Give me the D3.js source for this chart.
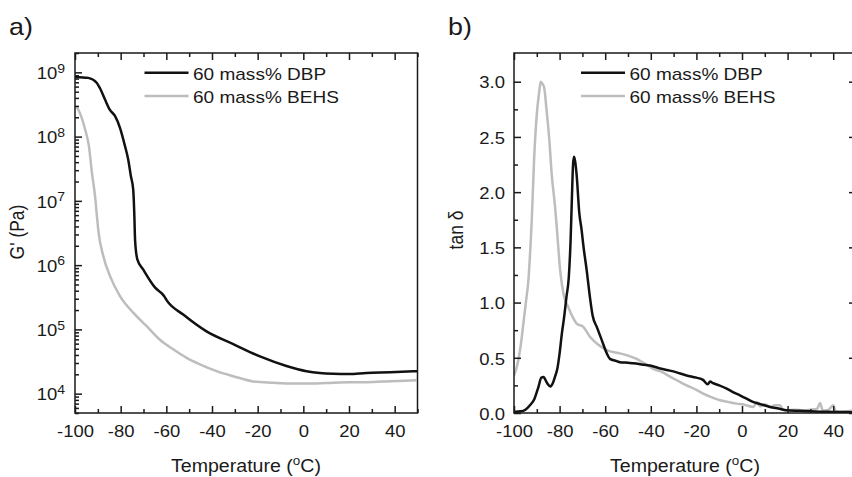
<!DOCTYPE html>
<html><head><meta charset="utf-8">
<script src="https://cdn.jsdelivr.net/npm/d3@7"></script>
<style>body{margin:0;background:#fff}</style>
</head><body><svg id="c" width="852" height="477"></svg>
<script>
// ---------------- data ----------------
const tempTicks = [-100, -80, -60, -40, -20, 0, 20, 40];
const tempMinor = [-90, -70, -50, -30, -10, 10, 30, 50];
const gMajor = [1e4, 1e5, 1e6, 1e7, 1e8, 1e9];
const tanMajor = [0, 0.5, 1, 1.5, 2, 2.5, 3];
const tanMinor = [0.25, 0.75, 1.25, 1.75, 2.25, 2.75];
const seriesNames = ["60 mass% DBP", "60 mass% BEHS"];
const panelLabels = ["a)", "b)"];

// G' (Pa) vs temperature
const gDbpT = [-100, -94.2, -90.5, -89.1, -86.9, -84.7, -82.5, -80.3, -78.1, -76.7, -75.5, -74.5, -74.0, -73.7, -72.7, -70.1, -65, -61, -59.9, -52.6, -42.4, -30.7, -19, -7.4, 1.4, 7.2, 13, 20, 27.6, 38, 50];
const gDbpV = [8.5e8, 8.2e8, 6.9e8, 5.7e8, 3.8e8, 2.6e8, 2.1e8, 1.37e8, 7.1e7, 4.4e7, 2.4e7, 1.5e7, 5.8e6, 2.5e6, 1.23e6, 8.5e5, 4.5e5, 3.3e5, 2.85e5, 1.7e5, 9.3e4, 5.9e4, 3.8e4, 2.7e4, 2.24e4, 2.1e4, 2.04e4, 2.02e4, 2.1e4, 2.15e4, 2.24e4];
const gBehsT = [-99.5, -97.8, -95.6, -93.9, -92.6, -91.2, -90.4, -89.8, -87.6, -84.7, -80.3, -74.5, -68.6, -62.8, -57, -51.1, -45.3, -38, -30.7, -22, -13.2, -4.5, 5.7, 13, 20, 27.6, 38, 49.5];
const gBehsV = [3.0e8, 2.3e8, 1.3e8, 7.1e7, 2.75e7, 1.17e7, 5.8e6, 3.5e6, 1.38e6, 6.8e5, 3.3e5, 1.82e5, 1.12e5, 6.9e4, 4.9e4, 3.6e4, 2.85e4, 2.24e4, 1.87e4, 1.55e4, 1.48e4, 1.44e4, 1.44e4, 1.48e4, 1.5e4, 1.51e4, 1.56e4, 1.62e4];

// tan delta vs temperature
const tanDbpT = [-100, -97, -95, -93, -91, -89.3, -88, -87, -86, -85, -84, -83, -82, -81, -80, -79, -78, -77, -76, -75.2, -74.6, -74.1, -73.7, -73.2, -72.5, -71.4, -70.3, -69.6, -68.1, -66.7, -65.5, -63.7, -61.5, -59.3, -57.9, -55, -53.5, -50, -47.8, -44, -40.4, -37, -33, -29, -24.3, -20, -17.1, -15, -14, -12.7, -10, -6.7, -4, -0.9, 2, 4.8, 8, 12.3, 16, 19.6, 25, 30, 34.2, 40, 45, 50];
const tanDbpV = [0.01, 0.015, 0.03, 0.07, 0.13, 0.235, 0.32, 0.325, 0.29, 0.257, 0.24, 0.27, 0.33, 0.40, 0.54, 0.72, 0.87, 1.05, 1.22, 1.55, 1.95, 2.25, 2.32, 2.28, 2.15, 1.82, 1.65, 1.52, 1.29, 1.05, 0.88, 0.78, 0.66, 0.54, 0.49, 0.47, 0.46, 0.455, 0.45, 0.44, 0.43, 0.41, 0.39, 0.37, 0.34, 0.32, 0.30, 0.26, 0.285, 0.27, 0.25, 0.22, 0.19, 0.16, 0.13, 0.10, 0.08, 0.055, 0.04, 0.025, 0.02, 0.015, 0.012, 0.01, 0.008, 0.006];
const tanBehsT = [-100, -99, -98.1, -97, -95.9, -94.8, -93.7, -92.8, -92.2, -91.2, -90.1, -89, -88.3, -87.5, -86.8, -85.7, -84.5, -83.5, -82, -81, -79.8, -78.1, -76.2, -74.3, -72.5, -69.6, -66.7, -63.7, -59.3, -53.5, -50, -46.2, -42, -38.9, -35, -31.6, -28, -24.3, -20, -17, -13, -9.6, -6, -2.3, 1, 5, 6.5, 8, 10, 12.3, 14.5, 16.7, 18, 19.6, 23, 26.9, 30, 33, 34.2, 35.5, 38, 40, 41, 43, 47.4, 50];
const tanBehsV = [0.34, 0.40, 0.48, 0.62, 0.81, 1.0, 1.2, 1.5, 1.75, 2.29, 2.68, 2.9, 3.0, 2.98, 2.95, 2.74, 2.47, 2.17, 1.87, 1.62, 1.3, 1.06, 0.96, 0.87, 0.81, 0.78, 0.69, 0.63, 0.57, 0.54, 0.52, 0.49, 0.44, 0.40, 0.37, 0.33, 0.29, 0.25, 0.21, 0.175, 0.14, 0.115, 0.10, 0.085, 0.075, 0.055, 0.10, 0.06, 0.08, 0.055, 0.07, 0.07, 0.03, 0.025, 0.03, 0.025, 0.03, 0.04, 0.09, 0.02, 0.03, 0.07, 0.02, 0.01, 0.02, 0.03];

// ---------------- drawing ----------------
const svg = d3.select("#c");
const SX = 1.12;
const FONT = "'Liberation Sans', Arial, Helvetica, sans-serif";
const INK = "#1a1a1a";
const COLORS = ["#111111", "#bdbdbd"];
const MAJ = 7, MIN = 4;

function stretch(sel) {
  sel.each(function () {
    const t = d3.select(this);
    const x = +t.attr("x") || 0, y = +t.attr("y") || 0;
    t.attr("transform", `translate(${x},${y}) scale(${SX},1)`).attr("x", 0).attr("y", 0);
  });
}
function addText(x, y, str, fs, anchor) {
  return svg.append("text").attr("transform", `translate(${x},${y}) scale(${SX},1)`)
    .attr("text-anchor", anchor || "start").attr("fill", INK)
    .style("font-family", FONT).style("font-size", fs + "px").text(str);
}
// tick marks only: axis oriented so that positive ticks point into the plot
function tickAxis(gen, tx, ty, size) {
  const g = svg.append("g").attr("transform", `translate(${tx},${ty})`);
  g.call(gen.tickFormat("").tickSize(size));
  g.select(".domain").remove();
  g.selectAll("line").attr("stroke", INK).attr("stroke-width", 1.5);
  g.selectAll("text").remove();
  return g;
}
// labels only
function labelAxis(gen, tx, ty, fs) {
  const g = svg.append("g").attr("transform", `translate(${tx},${ty})`);
  g.call(gen.tickSize(0));
  g.attr("font-family", null).attr("font-size", null);
  g.select(".domain").remove();
  g.selectAll("line").remove();
  g.selectAll("text").attr("fill", INK).style("font-family", FONT).style("font-size", fs + "px");
  return g;
}

function panel(o) {
  const x = d3.scaleLinear().domain([-100, 50]).range([o.left, o.right]);
  const y = o.y;
  const clipId = "clip" + o.key;
  svg.append("defs").append("clipPath").attr("id", clipId).append("rect")
    .attr("x", o.left).attr("y", o.top).attr("width", o.right - o.left).attr("height", o.bottom - o.top);

  // series
  const line = d3.line().x(d => x(d[0])).y(d => y(d[1])).curve(d3.curveMonotoneX);
  const lg = svg.append("g").attr("clip-path", `url(#${clipId})`);
  [1, 0].forEach(i => {
    const data = d3.zip(o.series[i][0], o.series[i][1]);
    lg.append("path").datum(data).attr("d", line).attr("fill", "none")
      .attr("stroke", COLORS[i]).attr("stroke-width", 2.5).attr("stroke-linejoin", "round");
  });

  // frame
  svg.append("rect").attr("x", o.left).attr("y", o.top).attr("width", o.right - o.left)
    .attr("height", o.bottom - o.top).attr("fill", "none").attr("stroke", INK).attr("stroke-width", 1.5);

  // inward tick marks (bottom edge: upward ticks via axisTop, etc.)
  tickAxis(d3.axisTop(x).tickValues(tempTicks), 0, o.bottom, MAJ);
  tickAxis(d3.axisTop(x).tickValues(tempMinor), 0, o.bottom, MIN);
  tickAxis(d3.axisBottom(x).tickValues(tempTicks), 0, o.top, MAJ);
  tickAxis(d3.axisBottom(x).tickValues(tempMinor), 0, o.top, MIN);
  tickAxis(d3.axisRight(y).tickValues(o.yMajor), o.left, 0, MAJ);
  tickAxis(d3.axisRight(y).tickValues(o.yMinor), o.left, 0, MIN);
  if (o.rightTicks) {
    tickAxis(d3.axisLeft(y).tickValues(o.yMajor), o.right, 0, MAJ);
    tickAxis(d3.axisLeft(y).tickValues(o.yMinor), o.right, 0, MIN);
  }

  // tick labels
  const gb = labelAxis(d3.axisBottom(x).tickValues(tempTicks).tickFormat(d => String(d)).tickPadding(12), 0, o.bottom, 16.5);
  stretch(gb.selectAll("text"));
  const gl = labelAxis(d3.axisLeft(y).tickValues(o.yMajor).tickFormat(o.yFormat).tickPadding(o.yPad + 2), o.left, 0, 16.5);
  gl.selectAll(".tick text").attr("dy", "0.38em");
  if (o.log) {
    gl.selectAll(".tick text").append("tspan").attr("dy", "-6.5")
      .style("font-size", "12.5px").text(d => Math.round(Math.log10(d)));
  }
  stretch(gl.selectAll(".tick text"));

  // legend
  seriesNames.forEach((name, i) => {
    const ly = 72.7 + i * 23.3;
    svg.append("line").attr("x1", o.legX).attr("x2", o.legX + 44).attr("y1", ly).attr("y2", ly)
      .attr("stroke", COLORS[i]).attr("stroke-width", 2.6);
    addText(o.legX + 48.5, ly + 7.3, name, 17);
  });

  // x title
  const t = svg.append("text").attr("transform", `translate(${o.titleX},472) scale(${SX},1)`)
    .attr("text-anchor", "middle").attr("fill", INK).style("font-family", FONT).style("font-size", "17.5px");
  t.append("tspan").text("Temperature (");
  t.append("tspan").attr("dy", "-7").style("font-size", "12px").text("o");
  t.append("tspan").attr("dy", "7").text("C)");

  // y title
  svg.append("text").attr("transform", `translate(${o.yTitleX},${o.yTitleY}) rotate(-90) scale(1,${SX})`)
    .attr("text-anchor", "middle").attr("fill", INK).style("font-family", FONT).style("font-size", "17.5px")
    .text(o.yTitle);

  // panel letter
  addText(o.letterX, 35, o.letter, 24);
}

panel({
  key: "a", left: 75, right: 417.5, top: 53, bottom: 413,
  y: d3.scaleLog().domain([5e3, 2e9]).range([413, 53]),
  log: true, yMajor: gMajor,
  yMinor: d3.scaleLog().domain([5e3, 2e9]).ticks().filter(v => Math.abs(Math.log10(v) - Math.round(Math.log10(v))) > 1e-6),
  yFormat: () => "10", yPad: 8, rightTicks: false,
  series: [[gDbpT, gDbpV], [gBehsT, gBehsV]],
  legX: 144.5, titleX: 246, yTitle: "G' (Pa)", yTitleX: 23.5, yTitleY: 232,
  letter: panelLabels[0], letterX: 9
});

panel({
  key: "b", left: 514, right: 856, top: 53, bottom: 413,
  y: d3.scaleLinear().domain([0, 3.26]).range([413, 53]),
  log: false, yMajor: tanMajor, yMinor: tanMinor,
  yFormat: d3.format(".1f"), yPad: 7, rightTicks: true,
  series: [[tanDbpT, tanDbpV], [tanBehsT, tanBehsV]],
  legX: 581, titleX: 685, yTitle: "tan δ", yTitleX: 463, yTitleY: 230,
  letter: panelLabels[1], letterX: 448
});
</script></body></html>
